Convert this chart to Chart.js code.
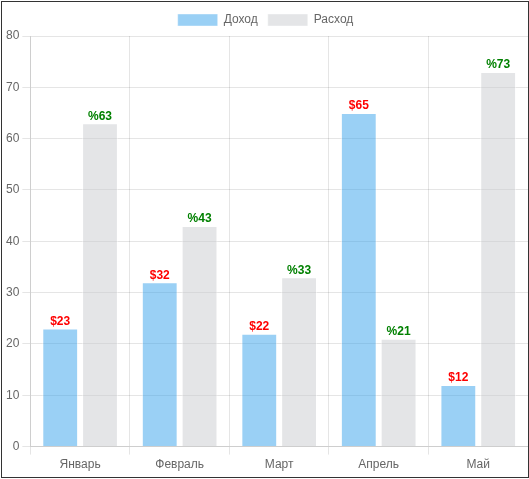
<!DOCTYPE html>
<html>
<head>
    <title>Доход и Расход</title>
    <script src="https://cdn.jsdelivr.net/npm/chart.js"></script>
    <style>
        body { margin: 0; background: #fff; }
        .frame {
            position: absolute; left: 1px; top: 1px;
            width: 526px; height: 475px;
            border: 1px solid #333;
        }
    </style>
</head>
<body>
    <div class="frame">
        <canvas id="chart"></canvas>
    </div>

    <script>
        const months = ['Январь', 'Февраль', 'Март', 'Апрель', 'Май'];
        const income = [23, 32, 22, 65, 12];
        const expense = [63, 43, 33, 21, 73];
        const prefixes = ['$', '%'];
        const labelColors = ['#ff0000', '#008000'];

        // Values above each bar
        const valueLabels = {
            id: 'valueLabels',
            afterDatasetsDraw(chart) {
                const ctx = chart.ctx;
                ctx.save();
                ctx.font = 'bold 12px "Liberation Sans", Arial, sans-serif';
                ctx.textAlign = 'center';
                ctx.textBaseline = 'bottom';
                chart.data.datasets.forEach((ds, i) => {
                    const meta = chart.getDatasetMeta(i);
                    ctx.fillStyle = labelColors[i];
                    meta.data.forEach((bar, j) => {
                        ctx.fillText(prefixes[i] + ds.data[j], bar.x, bar.y - 1);
                    });
                });
                ctx.restore();
            }
        };

        Chart.defaults.font.family = '"Liberation Sans", Arial, sans-serif';
        Chart.defaults.font.size = 12;
        Chart.defaults.color = '#666';

        new Chart(document.getElementById('chart'), {
            type: 'bar',
            data: {
                labels: months,
                datasets: [
                    { label: 'Доход', data: income, backgroundColor: 'rgba(54,162,235,0.5)',
                      borderColor: 'rgba(255,255,255,0.4)', borderWidth: 1 },
                    { label: 'Расход', data: expense, backgroundColor: 'rgba(201,203,207,0.5)',
                      borderColor: 'rgba(255,255,255,0.4)', borderWidth: 1 }
                ]
            },
            options: {
                responsive: true,
                maintainAspectRatio: false,
                animation: false,
                layout: { padding: { top: 2, bottom: 2, left: 1 } },
                plugins: {
                    legend: { labels: { boxWidth: 40, boxHeight: 12 } },
                    tooltip: { enabled: false }
                },
                scales: {
                    y: { min: 0, max: 80, ticks: { stepSize: 10 } }
                }
            },
            plugins: [valueLabels]
        });
    </script>
</body>
</html>
